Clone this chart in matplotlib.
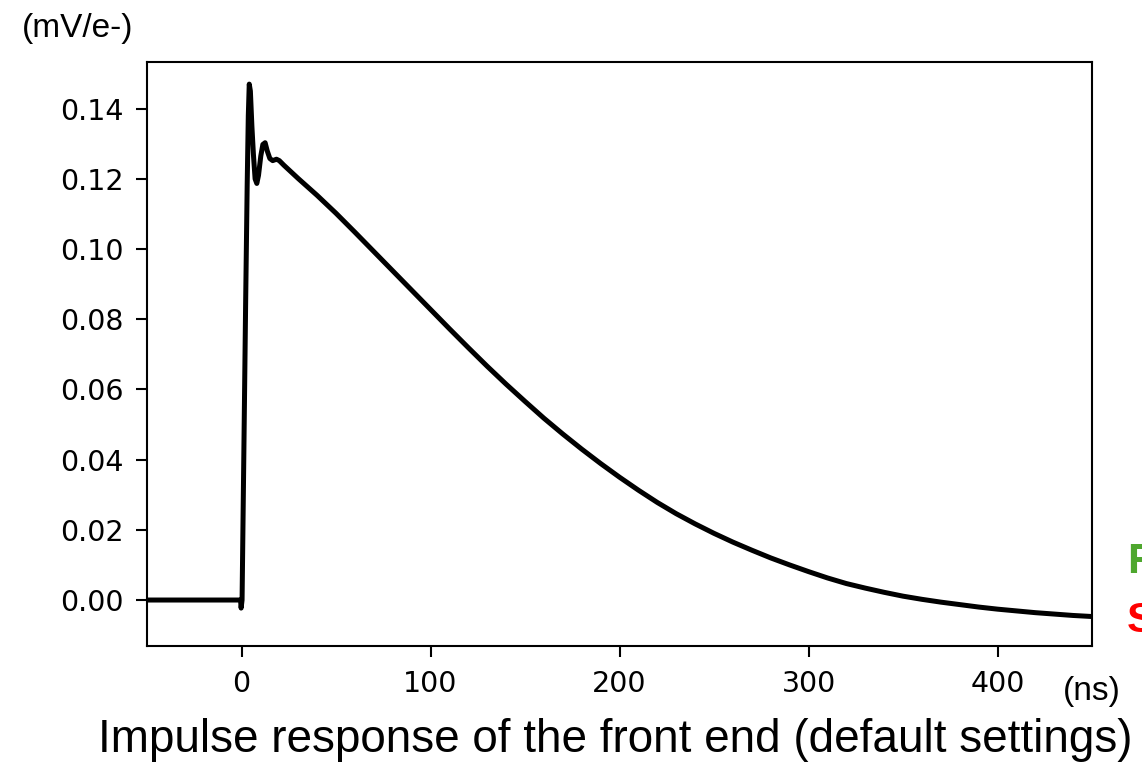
import matplotlib
matplotlib.use("Agg")
import matplotlib.pyplot as plt
from matplotlib import font_manager

# impulse response samples (time in ns, amplitude in mV/e-)
t_ns = [-50, -0.5, -0.2, 0.3, 1.2, 2.2, 3.0, 3.6, 4.1, 4.7, 5.5, 6.3, 7.2, 8.1,
        9.0, 10.2, 11.3, 12.5, 13.6, 15.0, 16.5, 18.5, 20, 22.4, 30, 40, 50,
        60, 70, 80, 90, 100, 110, 120, 130, 140, 150, 160, 170, 180, 190, 200,
        210, 220, 230, 240, 250, 260, 270, 280, 290, 300, 310, 320, 330, 340,
        350, 360, 370, 380, 390, 400, 410, 420, 430, 440, 450]
v_mv = [0.0, 0.0, -0.0023, 0.0, 0.040, 0.085, 0.118, 0.138, 0.147, 0.145,
        0.135, 0.127, 0.120, 0.1187, 0.121, 0.1265, 0.1298, 0.1303, 0.128,
        0.1258, 0.1252, 0.1256, 0.1252, 0.1239, 0.1201, 0.1153, 0.1102,
        0.1048, 0.0993, 0.0938, 0.0883, 0.0828, 0.0773, 0.0719, 0.0666,
        0.0615, 0.0566, 0.0518, 0.0473, 0.0430, 0.0389, 0.0350, 0.0313,
        0.0278, 0.0246, 0.0217, 0.0190, 0.0165, 0.0142, 0.0120, 0.0100,
        0.0081, 0.0063, 0.0047, 0.0034, 0.0022, 0.0011, 0.0002, -0.0006,
        -0.0013, -0.0020, -0.0026, -0.0031, -0.0036, -0.0040, -0.0044, -0.0047]

x_ticks = [0, 100, 200, 300, 400]
y_ticks = [0.00, 0.02, 0.04, 0.06, 0.08, 0.10, 0.12, 0.14]

W, H = 1142, 784
fig = plt.figure(figsize=(W / 100, H / 100), dpi=100)
ax = fig.add_axes([147 / W, 1 - 646 / H, (1092 - 147) / W, (646 - 62) / H])

ax.plot(t_ns, v_mv, color="black", lw=3.6, solid_joinstyle="round")
ax.set_xlim(-50, 450)
ax.set_ylim(-0.0131, 0.1533)
ax.set_xticks(x_ticks)
ax.set_yticks(y_ticks)
ax.set_yticklabels([f"{v:.2f}" for v in y_ticks])
ax.tick_params(labelsize=20.5, length=8, width=1.5, pad=9, colors="black")
for s in ax.spines.values():
    s.set_linewidth(1.5)

side = dict(family=["Liberation Sans", "DejaVu Sans"], fontsize=24)
fig.text(22 / W, 1 - 37 / H, "(mV/e-)", ha="left", va="baseline", **side)
fig.text(1063 / W, 1 - 700 / H, "(ns)", ha="left", va="baseline", **side)

# partly visible slide labels at the right edge
fig.text(1127 / W, 1 - 573 / H, "F", color="#4ea72e", fontsize=31,
         fontweight="bold", family="Liberation Sans", va="baseline")
fig.text(1127 / W, 1 - 632 / H, "S", color="#ff0000", fontsize=31,
         fontweight="bold", family="Liberation Sans", va="baseline")

names = {f.name for f in font_manager.fontManager.ttflist}
cap_font = "Liberation Sans Narrow" if "Liberation Sans Narrow" in names else "Liberation Sans"
cap = fig.text(615 / W, 1 - 752 / H,
               "Impulse response of the front end (default settings)",
               ha="center", va="baseline", fontsize=33, family=cap_font)
# shrink the caption to its target width
fig.canvas.draw()
w = cap.get_window_extent().width
if w > 1050:
    cap.set_fontsize(33 * 1050 / w)

fig.savefig("out.png", dpi=100)
